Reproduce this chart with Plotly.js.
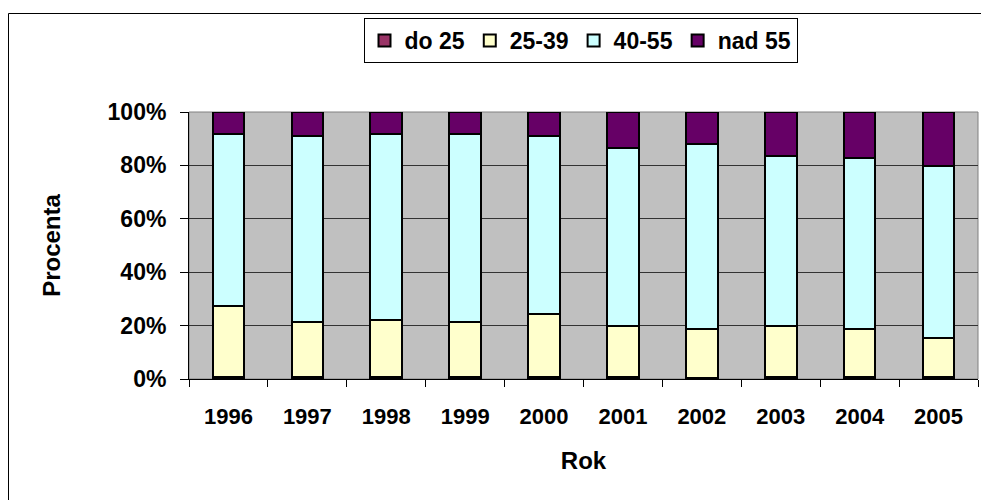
<!DOCTYPE html>
<html>
<head>
<meta charset="utf-8">
<script src="https://cdn.plot.ly/plotly-3.0.1.min.js"></script>
<style>html,body{margin:0;padding:0;background:#fff;}#chart{width:981px;height:500px;}</style>
</head>
<body>
<div id="chart"></div>
<script>
var years = ['1996','1997','1998','1999','2000','2001','2002','2003','2004','2005'];
var do25   = [0.9, 0.9, 0.9, 0.9, 0.9, 0.9, 0.3, 0.9, 0.9, 0.9];
var s25_39 = [26.5, 20.5, 21.3, 20.5, 23.5, 18.9, 18.3, 18.9, 17.7, 14.6];
var s40_55 = [64.3, 69.6, 69.5, 70.3, 66.5, 66.7, 69.4, 63.6, 64.1, 64.2];
var nad55  = [8.3, 9.0, 8.3, 8.3, 9.1, 13.5, 12.0, 16.6, 17.3, 20.3];
var seriesNames = ['do 25', '25-39', '40-55', 'nad 55'];
var yTickVals = [0, 20, 40, 60, 80, 100];
var yTickText = ['0%', '20%', '40%', '60%', '80%', '100%'];

var colors = ['#993366', '#FFFFCC', '#CCFFFF', '#660066'];
var seriesData = [do25, s25_39, s40_55, nad55];
var FONT = '"Liberation Sans", Arial, sans-serif';

var traces = seriesData.map(function (vals, i) {
  return {
    type: 'bar',
    name: seriesNames[i],
    x: years,
    y: vals,
    marker: { color: colors[i], line: { color: '#000000', width: 2 } },
    hoverinfo: 'x+y+name'
  };
});

// plot area in pixels: x 189..978, y 112..379
function px(x) { return (x - 189) / 789; }
function py(y) { return (379 - y) / 267; }

var layout = {
  width: 981,
  height: 500,
  margin: { l: 189, r: 3, t: 112, b: 121, pad: 0 },
  paper_bgcolor: '#FFFFFF',
  plot_bgcolor: '#C0C0C0',
  barmode: 'stack',
  barnorm: 'percent',
  bargap: 0.6,
  font: { family: FONT, color: '#000000', size: 20 },
  showlegend: true,
  legend: {
    orientation: 'h',
    x: px(580.5), xanchor: 'center',
    y: py(18), yanchor: 'top',
    bgcolor: '#FFFFFF',
    bordercolor: '#000000',
    borderwidth: 1,
    itemwidth: 30,
    font: { family: FONT, size: 23, color: '#000000', weight: 'bold' },
    traceorder: 'normal',
    itemclick: false
  },
  xaxis: {
    type: 'category',
    tickson: 'boundaries',
    ticks: 'outside',
    ticklen: 7,
    tickcolor: '#000000',
    tickwidth: 1,
    showline: true,
    linecolor: '#000000',
    linewidth: 1,
    showgrid: false,
    tickfont: { family: FONT, size: 22, color: '#000000', weight: 'bold' },
    ticklabelstandoff: 18,
    title: { text: 'Rok', font: { family: FONT, size: 24, color: '#000000', weight: 'bold' }, standoff: 23 },
    automargin: false,
    fixedrange: true
  },
  yaxis: {
    range: [0, 100],
    tickvals: yTickVals,
    ticktext: yTickText,
    ticks: 'outside',
    ticklen: 8,
    tickcolor: '#000000',
    tickwidth: 1,
    showline: true,
    linecolor: '#000000',
    linewidth: 1,
    showgrid: true,
    gridcolor: '#333333',
    gridwidth: 1,
    zeroline: false,
    tickfont: { family: FONT, size: 23, color: '#000000', weight: 'bold' },
    ticklabelstandoff: 9,
    title: { text: 'Procenta', font: { family: FONT, size: 24, color: '#000000', weight: 'bold' }, standoff: 40 },
    automargin: false,
    fixedrange: true
  },
  shapes: [
    { type: 'rect', xref: 'paper', yref: 'paper', x0: 0, x1: 1, y0: 0, y1: 1,
      line: { color: '#808080', width: 1 }, fillcolor: 'rgba(0,0,0,0)', layer: 'below' },
    { type: 'rect', xref: 'paper', yref: 'paper', x0: px(8.5), x1: px(1000), y0: py(13.5), y1: py(600),
      line: { color: '#000000', width: 1 }, fillcolor: 'rgba(0,0,0,0)', layer: 'above' }
  ]
};

Plotly.newPlot('chart', traces, layout, { staticPlot: true, displayModeBar: false });
</script>
</body>
</html>
